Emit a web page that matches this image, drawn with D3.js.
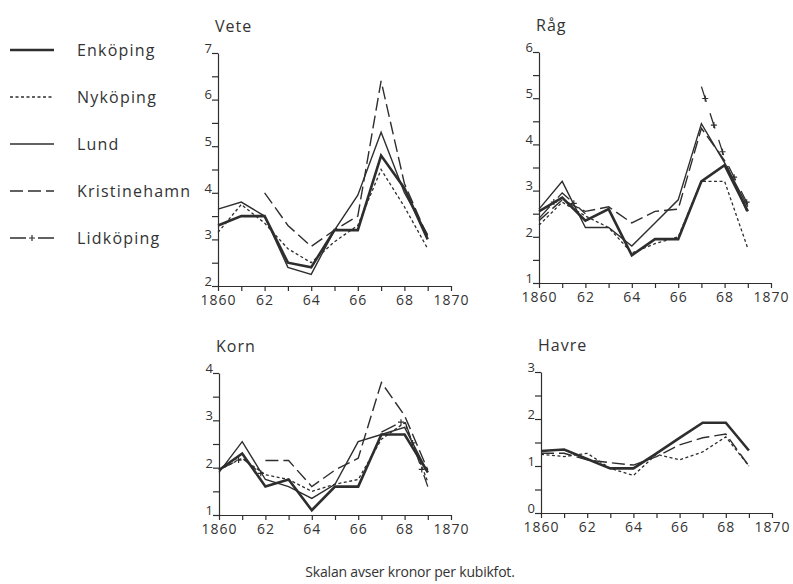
<!DOCTYPE html>
<html>
<head>
<meta charset="utf-8">
<style>
body { margin: 0; background: #fff; }
text { font-family: "Open Sans", sans-serif; fill: #333; }
</style>
</head>
<body>
<svg width="793" height="584"></svg>
<script src="https://d3js.org/d3.v7.min.js"></script>
<script>
var svg = d3.select("svg");

// data (kronor per kubikfot)
var years = [1860, 1861, 1862, 1863, 1864, 1865, 1866, 1867, 1868, 1869];
var towns = ["Enköping", "Nyköping", "Lund", "Kristinehamn", "Lidköping"];
var xTicks = [1860, 1861, 1862, 1863, 1864, 1865, 1866, 1867, 1868, 1869, 1870];

var veteEnk   = [3.3, 3.5, 3.5, 2.5, 2.4, 3.2, 3.2, 4.8, 4.1, 3.0];
var veteNyk   = [3.15, 3.75, 3.35, 2.8, 2.5, 2.95, 3.3, 4.5, 3.7, 2.8];
var veteLund  = [3.65, 3.8, 3.5, 2.4, 2.25, 3.2, 3.95, 5.3, 4.0, 3.1];
var veteKrist = [null, null, 4.0, 3.3, 2.85, 3.2, 3.5, 6.4, 4.2, 3.05];
var veteLid   = [null, null, null, null, null, null, null, null, null, null];

var ragEnk   = [2.55, 2.85, 2.35, 2.6, 1.6, 1.95, 1.95, 3.2, 3.55, 2.55];
var ragNyk   = [2.25, 2.75, 2.45, 2.2, 1.65, 1.85, 2.0, 3.2, 3.2, 1.75];
var ragLund  = [2.6, 3.2, 2.2, 2.2, 1.8, 2.3, 2.8, 4.45, 3.6, 2.65];
var ragKrist = [2.35, 2.8, 2.55, 2.65, 2.3, 2.55, 2.6, 4.35, 3.65, 2.5];
var ragLid   = [2.4, 2.95, 2.5, null, null, null, null, 5.25, 3.7, 2.7];

var kornEnk   = [1.95, 2.3, 1.6, 1.75, 1.1, 1.6, 1.6, 2.7, 2.7, 1.9];
var kornNyk   = [1.95, 2.2, 1.85, 1.75, 1.5, 1.65, 1.75, 2.6, 2.95, 1.7];
var kornLund  = [1.9, 2.55, 1.75, 1.6, 1.35, 1.65, 2.55, 2.7, 2.85, 1.9];
var kornKrist = [null, null, 2.15, 2.15, 1.6, 1.95, 2.2, 3.8, 3.1, 1.95];
var kornLid   = [1.95, 2.2, 1.8, null, null, null, null, 2.75, 3.0, 1.6];

var havreEnk   = [1.32, 1.35, 1.15, 0.95, 0.95, 1.27, 1.6, 1.92, 1.92, 1.33];
var havreNyk   = [1.25, 1.2, 1.27, 0.95, 0.8, 1.25, 1.13, 1.3, 1.62, 1.0];
var havreLund  = [null, null, null, null, null, null, null, null, null, null];
var havreKrist = [1.27, 1.27, 1.13, 1.07, 1.02, 1.2, 1.45, 1.6, 1.68, 1.0];
var havreLid   = [null, null, null, null, null, null, null, null, null, null];

var panels = [
  {title: "Vete",  series: [veteEnk, veteNyk, veteLund, veteKrist, veteLid],       dom: [2, 7], x0: 218, x1: 451, yb: 286, yt: 53},
  {title: "Råg",   series: [ragEnk, ragNyk, ragLund, ragKrist, ragLid],            dom: [1, 6], x0: 539, x1: 771, yb: 283, yt: 52},
  {title: "Korn",  series: [kornEnk, kornNyk, kornLund, kornKrist, kornLid],       dom: [1, 4], x0: 219, x1: 451, yb: 515, yt: 373},
  {title: "Havre", series: [havreEnk, havreNyk, havreLund, havreKrist, havreLid],  dom: [0, 3], x0: 541, x1: 772, yb: 513, yt: 372}
];

var styles = [
  {w: 2.6, dash: null},
  {w: 1.3, dash: "3,2.5"},
  {w: 1.4, dash: null},
  {w: 1.4, dash: "13,5"},
  {w: 1.3, dash: "16,12", plus: true}
];
var ink = "#2e2e2e";

// draws "+" marks in the gaps of the dash-dot line
function addPlus(g, pathNode) {
  var len = pathNode.getTotalLength();
  for (var s = 22; s < len; s += 28) {
    var p = pathNode.getPointAtLength(s);
    g.append("path")
      .attr("d", "M" + (p.x - 3) + "," + p.y + "h6M" + p.x + "," + (p.y - 3) + "v6")
      .attr("stroke", ink).attr("stroke-width", 1.2);
  }
}

panels.forEach(function(pn) {
  var x = d3.scaleLinear().domain([1860, 1870]).range([pn.x0, pn.x1]);
  var y = d3.scaleLinear().domain(pn.dom).range([pn.yb, pn.yt]);
  var g = svg.append("g");

  var halfs = d3.range(pn.dom[0], pn.dom[1] + 0.01, 0.5);
  var ya = g.append("g")
      .attr("transform", "translate(" + pn.x0 + ",0)")
      .call(d3.axisLeft(y).tickValues(halfs).tickSize(6).tickSizeOuter(0)
        .tickFormat(function(d) { return d % 1 === 0 ? d : ""; }));
  ya.selectAll("text").attr("dy", "-0.05em").attr("x", -6)
      .style("font-size", "13px").style("font-family", "Open Sans, sans-serif").attr("fill", "#333");

  var xa = g.append("g")
      .attr("transform", "translate(0," + pn.yb + ")")
      .call(d3.axisBottom(x).tickValues(xTicks).tickSize(5).tickSizeOuter(0)
        .tickFormat(function(d) {
          if (d === 1860 || d === 1870) return d;
          return d % 2 === 0 ? String(d).slice(2) : "";
        }));
  xa.selectAll("text").attr("y", 9).style("font-size", "14px").style("letter-spacing", "1px")
      .style("font-family", "Open Sans, sans-serif").attr("fill", "#333");

  g.selectAll(".domain, .tick line").attr("stroke", ink).attr("stroke-width", 1.2);

  g.append("text").attr("x", pn.x0 - 3).attr("y", pn.yt - 21)
      .style("font-size", "16px").style("letter-spacing", "1px").text(pn.title);

  var line = d3.line()
      .defined(function(d) { return d != null; })
      .x(function(d, i) { return x(years[i]); })
      .y(function(d) { return y(d); });

  pn.series.forEach(function(vals, k) {
    var st = styles[k];
    var p = g.append("path")
        .attr("d", line(vals))
        .attr("fill", "none")
        .attr("stroke", ink)
        .attr("stroke-width", st.w)
        .attr("stroke-linejoin", "miter")
        .attr("stroke-dasharray", st.dash);
    if (st.plus && p.attr("d")) addPlus(g, p.node());
  });
});

// legend
var leg = svg.append("g");
towns.forEach(function(t, k) {
  var yy = 50 + k * 47;
  var st = styles[k];
  var l = leg.append("path")
      .attr("d", "M10," + yy + "H54")
      .attr("fill", "none")
      .attr("stroke", ink)
      .attr("stroke-width", st.w)
      .attr("stroke-dasharray", st.dash);
  if (st.plus) addPlus(leg, l.node());
  leg.append("text").attr("x", 77).attr("y", yy + 6)
      .style("font-size", "16px").style("letter-spacing", "1.2px").text(t);
});

svg.append("text").attr("x", 410).attr("y", 577)
    .attr("text-anchor", "middle")
    .style("font-size", "14px").style("letter-spacing", "-0.2px")
    .text("Skalan avser kronor per kubikfot.");
</script>
</body>
</html>
